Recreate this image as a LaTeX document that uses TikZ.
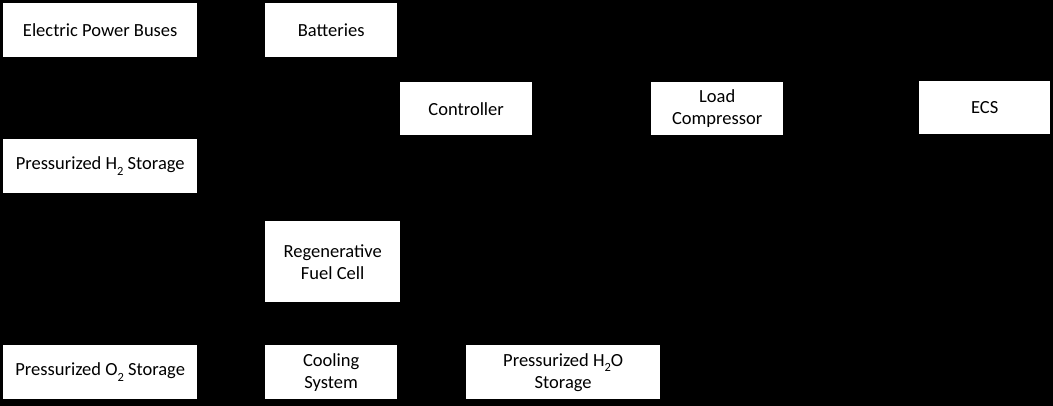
\documentclass[tikz,border=0pt]{standalone}
\usepackage{fontspec}
\setmainfont{Carlito}
\newcommand\subsc[1]{\raisebox{-0.3em}{\fontsize{12.5}{12.5}\selectfont #1}}
\begin{document}
\begin{tikzpicture}[x=1pt,y=-1pt,
  box/.style={fill=white,draw=none,inner sep=0pt,align=center,text=black,anchor=north west,
    font=\fontsize{18.5}{22}\selectfont}]
\fill[black] (0,0) rectangle (1053,406);
\useasboundingbox (0,0) rectangle (1053,406);
\node[box,minimum width=194pt,minimum height=54pt] (epb) at (3,3) {Electric Power Buses};
\node[box,minimum width=132pt,minimum height=54pt] (bat) at (265,3) {Batteries};
\node[box,minimum width=132pt,minimum height=53pt] (ctl) at (400,82) {Controller};
\node[box,minimum width=132pt,minimum height=53pt] (lc) at (651,82) {Load\\Compressor};
\node[box,minimum width=131pt,minimum height=53pt] (ecs) at (919,81) {ECS};
\node[box,minimum width=194pt,minimum height=54pt] (h2) at (3,139) {Pressurized H\subsc{2} Storage};
\node[box,minimum width=135pt,minimum height=81pt] (rfc) at (265,221) {Regenerative\\Fuel Cell};
\node[box,minimum width=194pt,minimum height=54pt] (o2) at (3,345) {Pressurized O\subsc{2} Storage};
\node[box,minimum width=132pt,minimum height=54pt] (cool) at (265,345) {Cooling\\System};
\node[box,minimum width=194pt,minimum height=54pt] (h2o) at (466,345) {Pressurized H\subsc{2}O\\Storage};
\end{tikzpicture}
\end{document}
